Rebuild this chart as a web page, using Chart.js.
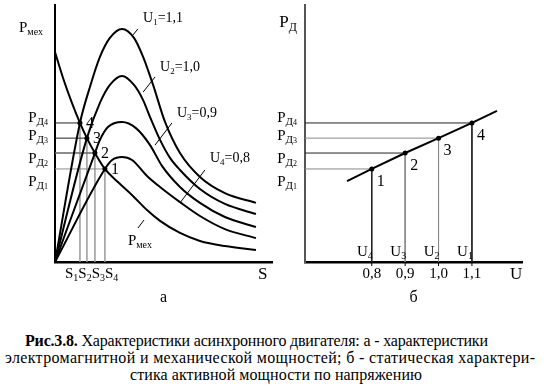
<!DOCTYPE html>
<html>
<head>
<meta charset="utf-8">
<script src="https://cdn.jsdelivr.net/npm/chart.js@4.4.0/dist/chart.umd.min.js"></script>
<style>
  body { margin: 0; background: #fff; width: 556px; height: 390px; position: relative; overflow: hidden; font-family: "Liberation Serif", "Times New Roman", Tinos, "DejaVu Serif", serif; }
  #chartA { position: absolute; left: 0; top: 0; }
  #chartB { position: absolute; left: 270px; top: 0; }
  .cap { position: absolute; font-size: 16px; line-height: 17px; white-space: nowrap; color: #000; }
</style>
</head>
<body>
<canvas id="chartA" width="280" height="310"></canvas>
<canvas id="chartB" width="286" height="310"></canvas>
<div class="cap" data-w="463" style="left:25px; top:332px"><b>Рис.3.8.</b> Характеристики асинхронного двигателя: а - характеристики</div>
<div class="cap" data-w="530" style="left:5px; top:349px">электромагнитной и механической мощностей; б - статическая характери-</div>
<div class="cap" data-w="292" style="left:130px; top:366px">стика активной мощности по напряжению</div>
<script>
// рабочие точки 1..4
const pointNames = ['1', '2', '3', '4'];
const slip = [23.0, 18.4, 14.7, 11.5];        // S4, S3, S2, S1
const powerD = [36.2, 42.4, 48.2, 54.1];      // PД1..PД4
const voltage = [0.8, 0.9, 1.0, 1.1];         // U4..U1
const voltageNames = ['4', '3', '2', '1'];

// кривые P(S), пары [S, P]
const curveU1 = [[0, 0], [11.5, 54.1], [16.1, 68.1], [20.7, 79.8], [25.3, 87.2], [30.9, 90.7], [36.4, 87.2], [40.6, 79.8], [45.2, 68.9], [50.7, 54.5], [57.6, 42.4], [66.8, 33.1], [78.3, 26.8], [92.6, 23.0]];
const curveU2 = [[0, 0], [14.7, 48.2], [20.7, 61.9], [25.3, 68.9], [30.9, 72.4], [36.4, 68.9], [40.6, 63.0], [43.8, 56.4], [48.4, 47.5], [53.0, 40.5], [57.6, 35.8], [66.8, 28.4], [78.3, 22.6], [92.6, 18.7]];
const curveU3 = [[0, 0], [18.4, 42.4], [20.7, 47.5], [24.4, 52.5], [30.9, 54.5], [37.3, 52.1], [43.8, 45.5], [49.3, 37.4], [57.6, 29.2], [66.8, 23.0], [78.3, 17.5], [92.6, 13.6]];
const curveU4 = [[0, 0], [23.0, 36.2], [26.3, 39.7], [30.9, 40.9], [35.5, 39.7], [42.4, 33.5], [48.4, 29.2], [57.6, 23.3], [66.8, 17.9], [78.3, 12.8], [92.6, 9.3]];
const curvePmex = [[0, 81.7], [3.7, 71.6], [7.8, 61.9], [11.5, 54.1], [14.7, 48.2], [18.4, 42.4], [23.0, 36.2], [29.0, 31.1], [35.9, 25.7], [42.4, 20.2], [48.4, 16.0], [57.6, 11.3], [66.8, 8.2], [78.3, 6.2], [92.6, 4.7]];

// статическая характеристика PД(U), концы прямой
const lineEndU = [0.726, 1.175];
const lineEndP = [31.5, 58.8];

// подписи кривых на графике а
const curveLabels = [
    { parts: [['U', 14], ['1', 9, 3], ['=1,1', 14]], at: [40.6, 93.4], lead: [[35.9, 88.3], [38.2, 90.7]] },
    { parts: [['U', 14], ['2', 9, 3], ['=1,0', 14]], at: [48.4, 74.3], lead: [[40.6, 66.1], [46.1, 72.0]] },
    { parts: [['U', 14], ['3', 9, 3], ['=0,9', 14]], at: [56.2, 56.4], lead: [[46.1, 45.5], [53.9, 54.1]] },
    { parts: [['U', 14], ['4', 9, 3], ['=0,8', 14]], at: [71.4, 38.9], lead: [[57.6, 23.0], [69.1, 35.8]] },
    { parts: [['P', 15], ['мех', 10, 3]], at: [33.6, 6.6], lead: [[38.2, 13.2], [41.0, 16.3]] }
];
const pdLabelShift = [12, 5, -3, -6];

const FONT = '"Liberation Serif", "Times New Roman", Tinos, "DejaVu Serif", serif';

// подгонка строк подписи под ширину набора
document.querySelectorAll('.cap').forEach(el => {
    const target = +el.dataset.w;
    const w = el.getBoundingClientRect().width;
    const n = el.textContent.length - 1;
    el.style.letterSpacing = ((target - w) / n).toFixed(3) + 'px';
});

function richText(ctx, parts, x, y, align) {
    let w = 0;
    parts.forEach(p => { ctx.font = p[1] + 'px ' + FONT; w += ctx.measureText(p[0]).width; });
    let cx = align === 'right' ? x - w : (align === 'center' ? x - w / 2 : x);
    ctx.textAlign = 'left';
    ctx.textBaseline = 'alphabetic';
    ctx.fillStyle = '#000';
    parts.forEach(p => {
        ctx.font = p[1] + 'px ' + FONT;
        ctx.fillText(p[0], cx, y + (p[2] || 0));
        cx += ctx.measureText(p[0]).width;
    });
}

function pdParts(i) {
    return [['P', 15], ['Д', 11, 3], [String(i + 1), 8, 3]];
}

function toXY(arr) {
    return arr.map(p => ({ x: p[0], y: p[1] }));
}

function curve(arr) {
    return {
        data: toXY(arr), showLine: true, borderColor: '#000', borderWidth: 2,
        pointRadius: 0, cubicInterpolationMode: 'monotone', fill: false
    };
}

function guide(data, color, width) {
    return { data: data, showLine: true, borderColor: color, borderWidth: width, pointRadius: 0, tension: 0 };
}

function axes(xMin, xMax, yColor) {
    return {
        x: {
            type: 'linear', min: xMin, max: xMax,
            grid: { display: false },
            ticks: { display: false },
            border: { color: '#000', width: 2.5 },
            afterFit: s => { s.height = 0; }
        },
        y: {
            type: 'linear', min: 0, max: 100,
            grid: { display: false },
            ticks: { display: false },
            border: { color: yColor, width: 2 },
            afterFit: s => { s.width = 0; }
        }
    };
}

// ---------- график а ----------
const hColorA = ['#8a8a8a', '#666', '#222', '#222'];
const dsA = [
    curve(curveU1), curve(curveU2), curve(curveU3), curve(curveU4), curve(curvePmex),
    { data: slip.map((s, i) => ({ x: s, y: powerD[i] })), pointRadius: 2.5, pointBackgroundColor: '#000', pointBorderWidth: 0, showLine: false }
];
slip.forEach((s, i) => {
    dsA.push(guide([{ x: 0, y: powerD[i] }, { x: s, y: powerD[i] }], hColorA[i], i === 1 ? 1.5 : 1));
    dsA.push(guide([{ x: s, y: powerD[i] }, { x: s, y: 0 }], '#999', 1.5));
});

const labelsA = {
    id: 'labelsA',
    afterDatasetsDraw(chart) {
        const ctx = chart.ctx, xs = chart.scales.x, ys = chart.scales.y, area = chart.chartArea;
        ctx.save();
        ctx.strokeStyle = '#000';
        ctx.lineWidth = 1;
        curveLabels.forEach(l => {
            ctx.beginPath();
            ctx.moveTo(xs.getPixelForValue(l.lead[0][0]), ys.getPixelForValue(l.lead[0][1]));
            ctx.lineTo(xs.getPixelForValue(l.lead[1][0]), ys.getPixelForValue(l.lead[1][1]));
            ctx.stroke();
            richText(ctx, l.parts, xs.getPixelForValue(l.at[0]), ys.getPixelForValue(l.at[1]), 'left');
        });
        powerD.forEach((p, i) => {
            richText(ctx, pdParts(i), area.left - 7, ys.getPixelForValue(p) + 5 + pdLabelShift[i], 'right');
            richText(ctx, [[pointNames[i], 16]], xs.getPixelForValue(slip[i]) + 6, ys.getPixelForValue(p) + 5, 'left');
        });
        // S1 S2 S3 S4
        const sParts = [];
        for (let k = 1; k <= 4; k++) { sParts.push(['S', 15]); sParts.push([String(k), 10, 3]); }
        const midS = slip.reduce((a, b) => a + xs.getPixelForValue(b), 0) / slip.length;
        richText(ctx, sParts, midS, area.bottom + 16, 'center');
        richText(ctx, [['P', 15], ['мех', 10, 3]], area.left - 12, area.top + 27, 'right');
        richText(ctx, [['S', 17]], area.right - 14, area.bottom + 17, 'left');
        richText(ctx, [['а', 16]], (area.left + area.right) / 2, area.bottom + 40, 'center');
        ctx.restore();
    }
};

new Chart(document.getElementById('chartA'), {
    type: 'scatter',
    data: { datasets: dsA },
    options: {
        responsive: false, animation: false, devicePixelRatio: 1, events: [],
        layout: { padding: { left: 55, right: 8, top: 5, bottom: 48 } },
        plugins: { legend: { display: false }, tooltip: { enabled: false } },
        scales: axes(0, 100, '#000')
    },
    plugins: [labelsA]
});

// ---------- график б ----------
const hColorB = ['#888', '#222', '#888', '#222'];
const vColorB = ['#222', '#888', '#888', '#222'];
const linePts = [{ x: lineEndU[0], y: lineEndP[0] }]
    .concat(voltage.map((u, i) => ({ x: u, y: powerD[i] })))
    .concat([{ x: lineEndU[1], y: lineEndP[1] }]);
const dsB = [
    guide(linePts, '#000', 2),
    { data: voltage.map((u, i) => ({ x: u, y: powerD[i] })), pointRadius: 2.5, pointBackgroundColor: '#000', pointBorderWidth: 0, showLine: false }
];
voltage.forEach((u, i) => {
    dsB.push(guide([{ x: 0.6, y: powerD[i] }, { x: u, y: powerD[i] }], hColorB[i], 1));
    dsB.push(guide([{ x: u, y: powerD[i] }, { x: u, y: 0 }], vColorB[i], 1));
});

const labelsB = {
    id: 'labelsB',
    afterDatasetsDraw(chart) {
        const ctx = chart.ctx, xs = chart.scales.x, ys = chart.scales.y, area = chart.chartArea;
        ctx.save();
        ctx.strokeStyle = '#000';
        ctx.lineWidth = 1;
        powerD.forEach((p, i) => {
            const px = xs.getPixelForValue(voltage[i]);
            richText(ctx, pdParts(i), area.left - 8, ys.getPixelForValue(p) + 5 + pdLabelShift[i], 'right');
            richText(ctx, [[pointNames[i], 16]], px + 5, ys.getPixelForValue(p) + 17, 'left');
            richText(ctx, [['U', 15], [voltageNames[i], 10, 3]], px + 1, area.bottom - 6, 'right');
            // деление и подпись оси U
            ctx.beginPath();
            ctx.moveTo(px, area.bottom);
            ctx.lineTo(px, area.bottom + 4);
            ctx.stroke();
            richText(ctx, [[voltage[i].toFixed(1).replace('.', ','), 15]], px, area.bottom + 16, 'center');
        });
        richText(ctx, [['P', 17], ['Д', 12, 4]], area.left - 8, area.top + 22, 'right');
        richText(ctx, [['U', 17]], area.right - 12, area.bottom + 17, 'left');
        richText(ctx, [['б', 16]], (area.left + area.right) / 2, area.bottom + 40, 'center');
        ctx.restore();
    }
};

new Chart(document.getElementById('chartB'), {
    type: 'scatter',
    data: { datasets: dsB },
    options: {
        responsive: false, animation: false, devicePixelRatio: 1, events: [],
        layout: { padding: { left: 35, right: 34, top: 5, bottom: 48 } },
        plugins: { legend: { display: false }, tooltip: { enabled: false } },
        scales: axes(0.6, 1.25, '#555')
    },
    plugins: [labelsB]
});
</script>
</body>
</html>
